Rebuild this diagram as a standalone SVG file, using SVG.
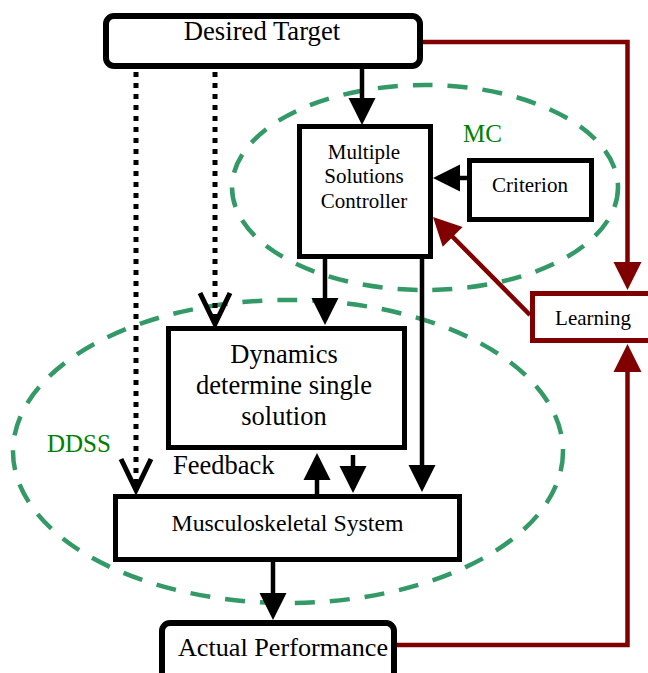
<svg xmlns="http://www.w3.org/2000/svg" width="648" height="673" viewBox="0 0 648 673">
<style>
  .box { fill: #ffffff; stroke: #000000; stroke-width: 5; }
  .rbox { fill: #ffffff; stroke: #000000; stroke-width: 6; }
  .lbox { fill: #ffffff; stroke: #800000; stroke-width: 5; }
  text { font-family: 'Liberation Serif', 'Tinos', 'Times New Roman', 'DejaVu Serif', serif; }
  .t { fill: #000000; text-anchor: middle; }
  .g { fill: #008000; }
  .conn { fill: none; stroke: #000000; stroke-width: 4.5; marker-end: url(#ah); }
  .red { fill: none; stroke: #800000; stroke-width: 4.5; marker-end: url(#rah); }
  .dot { fill: none; stroke: #000000; stroke-width: 5; stroke-dasharray: 5 6; marker-end: url(#vh); }
  .ell { fill: none; stroke: #339966; stroke-width: 4.5; stroke-dasharray: 20 15; }
</style>
<defs>
  <marker id="ah" markerUnits="userSpaceOnUse" orient="auto" refX="0" refY="0" markerWidth="40" markerHeight="40" viewBox="-30 -20 40 40" style="overflow:visible">
    <path d="M-22,-13.5 L5,0 L-22,13.5 Z" fill="#000000"/>
  </marker>
  <marker id="rah" markerUnits="userSpaceOnUse" orient="auto" refX="0" refY="0" markerWidth="40" markerHeight="40" viewBox="-30 -20 40 40" style="overflow:visible">
    <path d="M-23,-14 L5,0 L-23,14 Z" fill="#800000"/>
  </marker>
  <marker id="vh" markerUnits="userSpaceOnUse" orient="auto" refX="0" refY="0" markerWidth="40" markerHeight="40" viewBox="-35 -20 40 40" style="overflow:visible">
    <path d="M-31,-15 L0,0 L-31,15" fill="none" stroke="#000000" stroke-width="5"/>
  </marker>
</defs>

<g id="regions">
  <ellipse id="mc-region" class="ell" cx="425" cy="187.5" rx="193" ry="102.5"/>
  <ellipse id="ddss-region" class="ell" cx="288" cy="451.5" rx="275" ry="151.5"/>
  <text class="g" x="463" y="142" font-size="25">MC</text>
  <text class="g" x="47" y="452" font-size="25">DDSS</text>
</g>

<g id="connectors">
  <path class="dot" d="M136,72 V490"/>
  <path class="dot" d="M215,72 V324"/>
  <path class="conn" d="M362,69 V120"/>
  <path class="conn" d="M467,178 H438"/>
  <path class="conn" d="M325,259 V320"/>
  <path class="conn" d="M422,259 V487"/>
  <path class="conn" d="M353,455 V488"/>
  <path class="conn" d="M317,494 V458"/>
  <path class="conn" d="M273,562 V615"/>
  <path class="red" d="M423,42 H627.5 V285"/>
  <path class="red" d="M395,645 H627.5 V349"/>
  <path class="red" d="M530,315 L436.5,220.5"/>
  <text x="173" y="474" font-size="26.5" fill="#000000">Feedback</text>
</g>

<g id="desired-target">
  <rect class="rbox" x="106" y="16" width="314" height="50" rx="8"/>
  <text class="t" x="262" y="40" font-size="26.7">Desired Target</text>
</g>

<g id="msc">
  <rect class="box" x="299.5" y="126.5" width="131" height="130"/>
  <text class="t" x="364" y="159" font-size="21">Multiple</text>
  <text class="t" x="364" y="183" font-size="21">Solutions</text>
  <text class="t" x="364" y="208" font-size="21">Controller</text>
</g>

<g id="criterion">
  <rect class="box" x="469.5" y="160.5" width="122" height="59"/>
  <text class="t" x="530" y="192" font-size="21">Criterion</text>
</g>

<g id="learning">
  <rect class="lbox" x="532.5" y="293.5" width="130" height="47"/>
  <text class="t" x="593" y="325" font-size="21">Learning</text>
</g>

<g id="dynamics">
  <rect class="box" x="168.5" y="328.5" width="236" height="119"/>
  <text class="t" x="284" y="363" font-size="26.5">Dynamics</text>
  <text class="t" x="284" y="394" font-size="26.5">determine single</text>
  <text class="t" x="284" y="425" font-size="26.5">solution</text>
</g>

<g id="musculoskeletal">
  <rect class="box" x="115.5" y="496.5" width="344" height="63"/>
  <text class="t" x="287.5" y="531" font-size="23.8">Musculoskeletal System</text>
</g>

<g id="actual-performance">
  <rect class="rbox" x="162" y="623" width="232" height="62" rx="8"/>
  <text class="t" x="283" y="656" font-size="26.2">Actual Performance</text>
</g>
</svg>
